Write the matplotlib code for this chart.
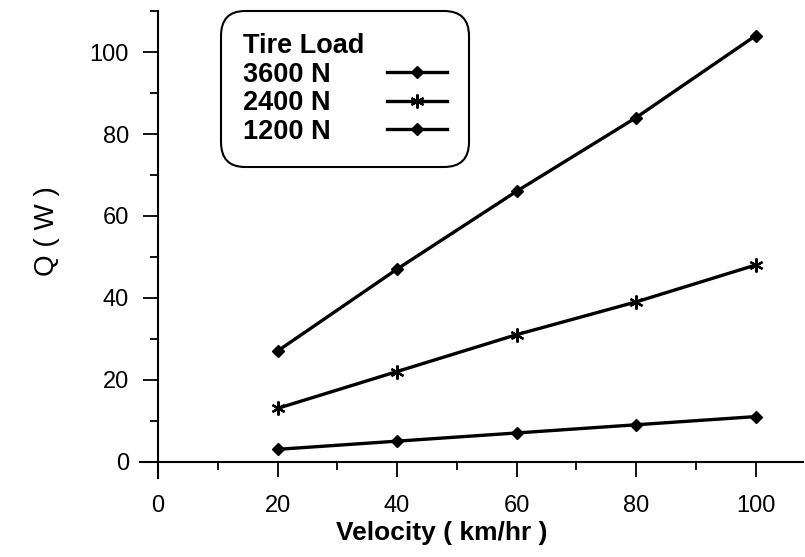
import numpy as np
import matplotlib
matplotlib.use('Agg')
import matplotlib.pyplot as plt
from matplotlib.ticker import MultipleLocator

plt.rcParams['font.family'] = ['Liberation Sans', 'DejaVu Sans']

# data
velocity = [20, 40, 60, 80, 100]
q_3600 = [27, 47, 66, 84, 104]
q_2400 = [13, 22, 31, 39, 48]
q_1200 = [3, 5, 7, 9, 11]
load_labels = ['3600 N', '2400 N', '1200 N']

fig = plt.figure(figsize=(8.05, 5.57), dpi=100)
ax = fig.add_axes([0.174, 0.1418, 0.824, 0.8382])

ax.plot(velocity, q_3600, color='k', lw=2.4, marker='D', ms=6, label=load_labels[0])
ax.plot(velocity, q_2400, color='k', lw=2.4, marker=(6, 2, 0), ms=10, mew=1.6, label=load_labels[1])
ax.plot(velocity, q_1200, color='k', lw=2.4, marker='D', ms=6, label=load_labels[2])

ax.set_xlim(-3, 108)
ax.set_ylim(-4, 110)

# axes crossing at the origin
ax.spines['left'].set_position(('data', 0))
ax.spines['bottom'].set_position(('data', 0))
ax.spines['right'].set_visible(False)
ax.spines['top'].set_visible(False)
for s in ['left', 'bottom']:
    ax.spines[s].set_linewidth(1.5)

ax.xaxis.set_major_locator(MultipleLocator(20))
ax.xaxis.set_minor_locator(MultipleLocator(10))
ax.yaxis.set_major_locator(MultipleLocator(20))
ax.yaxis.set_minor_locator(MultipleLocator(10))
ax.tick_params(which='major', direction='out', length=11, width=1.3, labelsize=17, pad=10)
ax.tick_params(which='minor', direction='out', length=5.5, width=1.3)
ax.tick_params(axis='x', which='major', pad=13)

ax.set_xlabel('Velocity ( km/hr )', fontsize=19, fontweight='bold')
ax.xaxis.set_label_coords(0.455, -0.093)
ax.set_ylabel('Q ( W )', fontsize=20)
ax.yaxis.set_label_coords(-0.12, 0.53)

leg = ax.legend(title='Tire Load', loc='upper left', bbox_to_anchor=(0.2745, 0.98),
                bbox_transform=fig.transFigure, markerfirst=False, alignment='left',
                prop={'size': 19.5, 'weight': 'bold'}, title_fontproperties={'size': 19.5, 'weight': 'bold'},
                handlelength=2.2, handletextpad=2.1, labelspacing=0.1, borderpad=0.8,
                borderaxespad=0, fancybox=True, framealpha=1, edgecolor='k')
leg.get_frame().set_linewidth(1.5)
leg.get_frame().set_boxstyle('round', pad=0.0, rounding_size=0.9)

fig.savefig('out.png', dpi=100)
